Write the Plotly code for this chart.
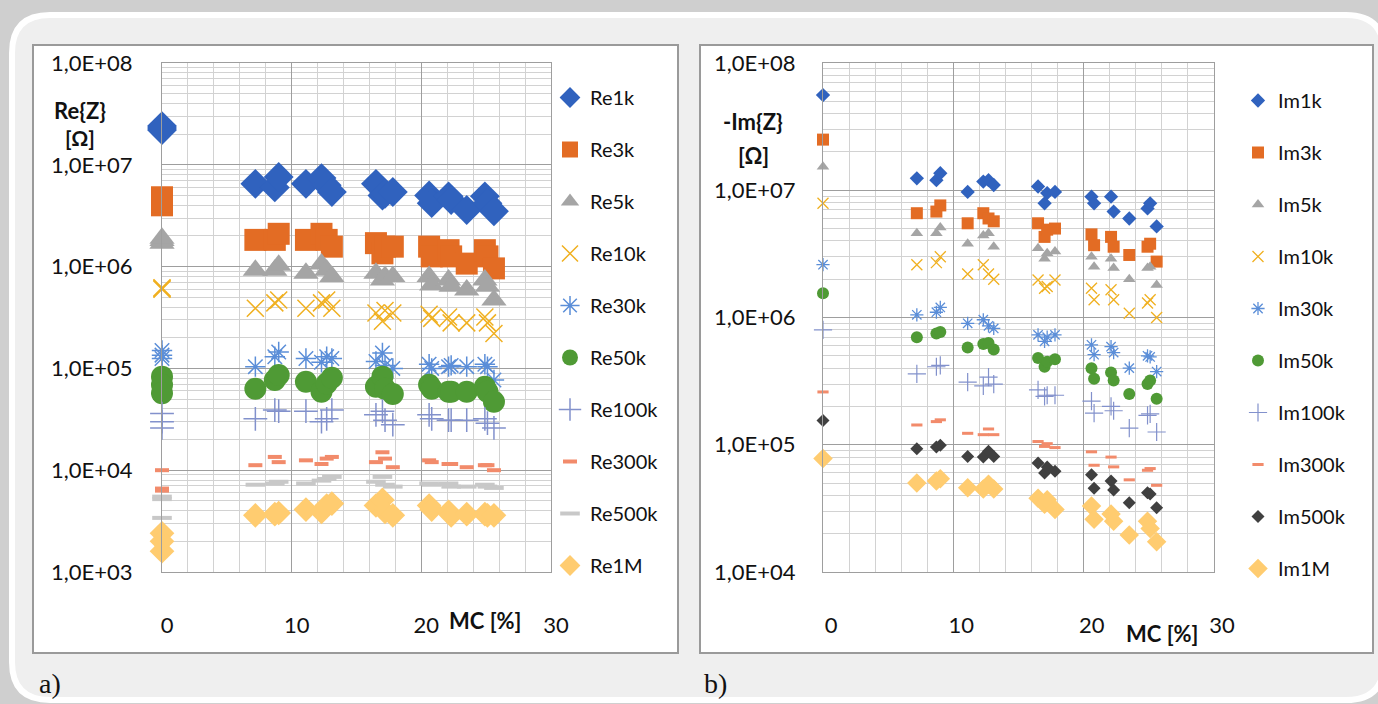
import plotly.graph_objects as go

W, H = 1378, 704

# ---------------- data ----------------
mc_a = [0, 0, 0, 7.2, 8.7, 9.0, 11.1, 12.3, 12.7, 13.1, 16.5, 17.0, 17.2, 17.8,
        20.6, 20.8, 22.1, 22.3, 23.5, 24.9, 25.1, 25.6]
mc_b = [0, 7.2, 8.7, 9.0, 11.1, 12.3, 12.7, 13.1, 16.5, 17.0, 17.2, 17.8,
        20.6, 20.8, 22.1, 22.3, 23.5, 24.9, 25.1, 25.6]

names_a = ["Re1k", "Re3k", "Re5k", "Re10k", "Re30k", "Re50k", "Re100k", "Re300k", "Re500k", "Re1M"]
names_b = ["Im1k", "Im3k", "Im5k", "Im10k", "Im30k", "Im50k", "Im100k", "Im300k", "Im500k", "Im1M"]

re1k = [2.2e7, 2.3e7, 2.4e7, 6.5e6, 6.0e6, 7.6e6, 6.5e6, 7.4e6, 6.3e6, 5.4e6, 6.5e6, 5.0e6, 5.2e6, 5.4e6,
        5.0e6, 4.2e6, 4.9e6, 4.5e6, 3.6e6, 4.9e6, 4.2e6, 3.5e6]
re3k = [4.0e6, 4.4e6, 4.8e6, 1.83e6, 1.83e6, 2.1e6, 1.83e6, 2.1e6, 1.83e6, 1.57e6, 1.7e6, 1.35e6, 1.57e6, 1.57e6,
        1.57e6, 1.26e6, 1.45e6, 1.26e6, 1.07e6, 1.45e6, 1.26e6, 0.96e6]
re5k = [1.7e6, 1.8e6, 1.9e6, 9.2e5, 9.2e5, 1.03e6, 8.6e5, 1.06e6, 9.2e5, 8.0e5, 8.6e5, 7.4e5, 8.0e5, 8.0e5,
        8.0e5, 6.6e5, 7.4e5, 6.4e5, 5.9e5, 7.4e5, 6.4e5, 4.7e5]
re10k = [6.0e5, 6.1e5, 6.2e5, 3.9e5, 4.4e5, 4.7e5, 3.9e5, 4.4e5, 4.7e5, 3.9e5, 3.5e5, 2.9e5, 3.7e5, 3.5e5,
         3.4e5, 3.1e5, 3.2e5, 2.8e5, 2.8e5, 3.2e5, 2.8e5, 2.2e5]
re30k = [1.5e5, 1.25e5, 1.35e5, 1.04e5, 1.3e5, 1.45e5, 1.25e5, 1.15e5, 1.3e5, 1.25e5, 1.17e5, 1.42e5, 1.07e5, 1.0e5,
         1.1e5, 1.0e5, 1.04e5, 1.07e5, 1.04e5, 1.1e5, 1.04e5, 7.7e4]
re50k = [8.3e4, 6.9e4, 5.7e4, 6.3e4, 7.7e4, 8.6e4, 7.4e4, 5.9e4, 7.1e4, 8.1e4, 6.6e4, 8.3e4, 6.3e4, 5.6e4,
         6.9e4, 6.3e4, 5.9e4, 5.9e4, 5.9e4, 6.6e4, 5.9e4, 4.7e4]
re100k = [3.6e4, 3.0e4, 2.6e4, 3.2e4, 3.9e4, 3.8e4, 3.8e4, 3.0e4, 3.2e4, 3.9e4, 3.5e4, 3.8e4, 3.1e4, 2.8e4,
          3.5e4, 3.2e4, 3.1e4, 3.1e4, 3.1e4, 3.2e4, 2.9e4, 2.6e4]
re300k = [1.0e4, 6.6e3, 6.3e3, 1.12e4, 1.35e4, 1.2e4, 1.25e4, 1.15e4, 1.3e4, 1.35e4, 1.2e4, 1.5e4, 1.3e4, 1.07e4,
          1.25e4, 1.2e4, 1.15e4, 1.15e4, 1.07e4, 1.12e4, 1.12e4, 1.0e4]
re500k = [5.5e3, 3.4e3, 5.2e3, 7.2e3, 7.4e3, 7.7e3, 7.4e3, 7.9e3, 8.2e3, 8.6e3, 7.7e3, 8.6e3, 7.2e3, 6.9e3,
          7.4e3, 7.2e3, 7.4e3, 6.9e3, 6.9e3, 7.2e3, 6.9e3, 6.7e3]
re1m = [2.4e3, 1.6e3, 2.0e3, 3.6e3, 3.7e3, 3.8e3, 4.1e3, 3.9e3, 4.5e3, 4.7e3, 4.5e3, 5.1e3, 3.9e3, 3.6e3,
        4.5e3, 4.1e3, 3.9e3, 3.6e3, 3.7e3, 3.7e3, 3.6e3, 3.6e3]

im1k = [5.6e7, 1.24e7, 1.2e7, 1.36e7, 9.7e6, 1.17e7, 1.2e7, 1.1e7, 1.07e7, 7.9e6, 9.5e6, 9.7e6,
        8.9e6, 7.9e6, 8.9e6, 6.8e6, 6.0e6, 7.2e6, 7.9e6, 5.2e6]
im3k = [2.5e7, 6.6e6, 6.8e6, 7.6e6, 5.5e6, 6.6e6, 6.0e6, 5.7e6, 5.5e6, 4.3e6, 4.9e6, 5.0e6,
        4.5e6, 3.7e6, 4.3e6, 3.6e6, 3.1e6, 3.6e6, 3.8e6, 2.75e6]
im5k = [1.53e7, 4.6e6, 4.6e6, 5.1e6, 3.8e6, 4.4e6, 4.6e6, 3.6e6, 3.5e6, 2.9e6, 3.2e6, 3.3e6,
        3.0e6, 2.5e6, 2.9e6, 2.45e6, 2.0e6, 2.45e6, 2.5e6, 1.8e6]
im10k = [7.9e6, 2.6e6, 2.7e6, 3.0e6, 2.2e6, 2.6e6, 2.2e6, 2.0e6, 1.97e6, 1.7e6, 1.75e6, 1.97e6,
         1.7e6, 1.38e6, 1.65e6, 1.38e6, 1.08e6, 1.3e6, 1.38e6, 1.0e6]
im30k = [2.6e6, 1.05e6, 1.1e6, 1.2e6, 9.0e5, 9.6e5, 8.6e5, 8.2e5, 7.3e5, 6.5e5, 7.0e5, 7.3e5,
         6.1e5, 5.1e5, 5.9e5, 5.3e5, 4.0e5, 5.0e5, 4.9e5, 3.76e5]
im50k = [1.55e6, 7.0e5, 7.5e5, 7.7e5, 5.8e5, 6.2e5, 6.3e5, 5.6e5, 4.8e5, 4.1e5, 4.5e5, 4.7e5,
         4.0e5, 3.3e5, 3.7e5, 3.2e5, 2.5e5, 3.0e5, 3.2e5, 2.3e5]
im100k = [8.0e5, 3.6e5, 4.1e5, 4.2e5, 3.1e5, 2.9e5, 3.4e5, 3.0e5, 2.7e5, 2.4e5, 2.45e5, 2.45e5,
          2.2e5, 1.77e5, 2.0e5, 1.85e5, 1.35e5, 1.7e5, 1.75e5, 1.26e5]
im300k = [2.6e5, 1.43e5, 1.52e5, 1.57e5, 1.23e5, 1.2e5, 1.33e5, 1.2e5, 1.06e5, 9.7e4, 1.02e5, 9.5e4,
          8.8e4, 6.9e4, 8.0e4, 6.7e4, 5.3e4, 6.3e4, 6.5e4, 4.8e4]
im500k = [1.55e5, 9.3e4, 9.6e4, 9.9e4, 8.1e4, 8.0e4, 8.9e4, 8.1e4, 7.2e4, 6.0e4, 6.7e4, 6.2e4,
          5.8e4, 4.55e4, 5.2e4, 4.4e4, 3.5e4, 4.2e4, 4.1e4, 3.2e4]
im1m = [7.8e4, 5.0e4, 5.2e4, 5.4e4, 4.6e4, 4.5e4, 4.9e4, 4.5e4, 3.8e4, 3.4e4, 3.7e4, 3.1e4,
        3.3e4, 2.6e4, 2.85e4, 2.5e4, 1.95e4, 2.5e4, 2.2e4, 1.73e4]

x_ticks = [0, 10, 20, 30]
y_ticks_a = [1e3, 1e4, 1e5, 1e6, 1e7, 1e8]
y_ticks_b = [1e4, 1e5, 1e6, 1e7, 1e8]
y_ticktext_a = ["1,0E+03", "1,0E+04", "1,0E+05", "1,0E+06", "1,0E+07", "1,0E+08"]
y_ticktext_b = ["1,0E+04", "1,0E+05", "1,0E+06", "1,0E+07", "1,0E+08"]

series_a = [re1k, re3k, re5k, re10k, re30k, re50k, re100k, re300k, re500k, re1m]
series_b = [im1k, im3k, im5k, im10k, im30k, im50k, im100k, im300k, im500k, im1m]

# ---------------- styles ----------------
BLUE, ORANGE, GRAY, GOLD = "#3062BE", "#E36C24", "#A5A5A5", "#F0B020"
BLUE2, GREEN, PURP, SALMON = "#5B8ED8", "#4F9A35", "#8291CC", "#F28B6B"
LGRAY, DGRAY, LGOLD = "#C8C8C8", "#404040", "#FFCC70"

def filled(sym, size, color):
    return dict(symbol=sym, size=size, color=color, line=dict(width=0))

def openm(sym, size, color, w):
    return dict(symbol=sym, size=size, color=color, line=dict(color=color, width=w))

style_a = [
    filled("diamond", 23, BLUE), filled("square", 22, ORANGE), filled("triangle-up", 22, GRAY),
    openm("x-thin-open", 17, GOLD, 1.5), openm("asterisk-open", 17, BLUE2, 1.5),
    filled("circle", 22, GREEN), openm("cross-thin-open", 17, PURP, 1.5),
    openm("line-ew-open", 10, SALMON, 4), openm("line-ew-open", 14, LGRAY, 4),
    filled("diamond", 19, LGOLD),
]
style_b = [
    filled("diamond", 11, BLUE), filled("square", 12, ORANGE), filled("triangle-up", 11, GRAY),
    openm("x-thin-open", 11, GOLD, 1.3), openm("asterisk-open", 11, BLUE2, 1.3),
    filled("circle", 12, GREEN), openm("cross-thin-open", 13, PURP, 1.2),
    openm("line-ew-open", 8, SALMON, 3), filled("diamond", 10, DGRAY),
    filled("diamond", 15, LGOLD),
]

FONT = "Lato"
fig = go.Figure()

for nm, ys, st in zip(names_a, series_a, style_a):
    fig.add_trace(go.Scatter(x=mc_a, y=ys, mode="markers", name=nm, marker=st,
                             xaxis="x", yaxis="y", legend="legend", legendgroup=nm,
                             cliponaxis=False, showlegend=True))
for nm, ys, st in zip(names_b, series_b, style_b):
    fig.add_trace(go.Scatter(x=mc_b, y=ys, mode="markers", name=nm, marker=st,
                             xaxis="x2", yaxis="y2", legend="legend2", legendgroup=nm,
                             cliponaxis=False, showlegend=True))

def px_x(p):
    return p / W

def px_y(p):
    return 1 - p / H

MAJ, MIN = "#9E9E9E", "#D2D2D2"

def xaxis(domain, anchor, shift):
    return dict(domain=domain, anchor=anchor, range=[0, 30], tickmode="array", tickvals=x_ticks,
                ticks="outside", ticklen=33, tickcolor="rgba(0,0,0,0)", automargin=False,
                ticklabelshift=shift,
                tickfont=dict(family=FONT, size=22, color="#111"),
                showgrid=True, gridcolor=MAJ, gridwidth=1.2, zeroline=False,
                showline=True, linecolor=MAJ, linewidth=1.2, mirror=True,
                minor=dict(tickmode="linear", tick0=0, dtick=2, showgrid=True, gridcolor=MIN, gridwidth=1,
                           ticks=""))

def yaxis(domain, anchor, lo, hi, tv, tt, tl):
    minors = [m * 10 ** e for e in range(lo, hi) for m in range(2, 10)]
    return dict(domain=domain, anchor=anchor, type="log", range=[lo, hi], tickmode="array",
                tickvals=tv, ticktext=tt, ticks="outside", ticklen=tl, tickcolor="rgba(0,0,0,0)",
                automargin=False,
                tickfont=dict(family=FONT, size=22, color="#111"),
                showgrid=True, gridcolor=MAJ, gridwidth=1.2, zeroline=False,
                showline=True, linecolor=MAJ, linewidth=1.2, mirror=True,
                minor=dict(tickmode="array", tickvals=minors, showgrid=True, gridcolor=MIN, gridwidth=1,
                           ticks=""))

ydom = [px_y(572), px_y(63)]
fig.update_layout(
    xaxis=xaxis([px_x(162), px_x(551)], "y", 5),
    yaxis=yaxis(ydom, "x", 3, 8, y_ticks_a, y_ticktext_a, 24),
    xaxis2=xaxis([px_x(823), px_x(1214)], "y2", 8),
    yaxis2=yaxis(ydom, "x2", 4, 8, y_ticks_b, y_ticktext_b, 22),
)

legend_common = dict(yanchor="top", xanchor="left", bgcolor="rgba(0,0,0,0)",
                     font=dict(family=FONT, size=20, color="#111"), tracegroupgap=23,
                     itemsizing="trace", traceorder="grouped")
fig.update_layout(
    legend=dict(x=px_x(550), y=px_y(78), **legend_common),
    legend2=dict(x=px_x(1238), y=px_y(81), **legend_common),
)

# decorative frame
def rrect(x0, y0, x1, y1, r):
    X0, X1 = px_x(x0), px_x(x1)
    Y0, Y1 = px_y(y0), px_y(y1)
    rx, ry = r / W, r / H
    return (f"M {X0+rx},{Y0} L {X1-rx},{Y0} Q {X1},{Y0} {X1},{Y0-ry} "
            f"L {X1},{Y1+ry} Q {X1},{Y1} {X1-rx},{Y1} L {X0+rx},{Y1} Q {X0},{Y1} {X0},{Y1+ry} "
            f"L {X0},{Y0-ry} Q {X0},{Y0} {X0+rx},{Y0} Z")

shapes = [
    dict(type="path", xref="paper", yref="paper", layer="below", path=rrect(12, 15, 1384, 700, 38),
         fillcolor="#EFEFEF", line=dict(color="#FFFFFF", width=6)),
    dict(type="rect", xref="paper", yref="paper", layer="below",
         x0=px_x(33), x1=px_x(678), y0=px_y(653), y1=px_y(45),
         fillcolor="#FFFFFF", line=dict(color="#9A9A9A", width=2)),
    dict(type="rect", xref="paper", yref="paper", layer="below",
         x0=px_x(700), x1=px_x(1373), y0=px_y(653), y1=px_y(45),
         fillcolor="#FFFFFF", line=dict(color="#9A9A9A", width=2)),
]

def ann(text, x, y, size, bold=False, family=FONT, color="#111"):
    return dict(text=f"<b>{text}</b>" if bold else text, x=px_x(x), y=px_y(y), xref="paper", yref="paper",
                showarrow=False, xanchor="center", yanchor="middle",
                font=dict(family=family, size=size, color=color))

annotations = [
    ann("Re{Z}", 80, 110, 22, True),
    ann("[Ω]", 80, 137, 21, True),
    ann("-Im{Z}", 753, 121, 22, True),
    ann("[Ω]", 753, 155, 22, True),
    ann("MC [%]", 485, 620, 22, True),
    ann("MC [%]", 1162, 633, 22, True),
    ann("a)", 50, 683, 28, False, "Liberation Serif"),
    ann("b)", 715, 683, 28, False, "Liberation Serif"),
]

fig.update_layout(
    width=W, height=H, autosize=False,
    margin=dict(l=0, r=0, t=0, b=0, pad=0, autoexpand=False),
    paper_bgcolor="#CFCFCF", plot_bgcolor="rgba(0,0,0,0)",
    shapes=shapes, annotations=annotations,
)

fig.write_html("out.html", config={"displayModeBar": False},
               post_script="document.body.style.margin='0';document.body.style.overflow='hidden';")
